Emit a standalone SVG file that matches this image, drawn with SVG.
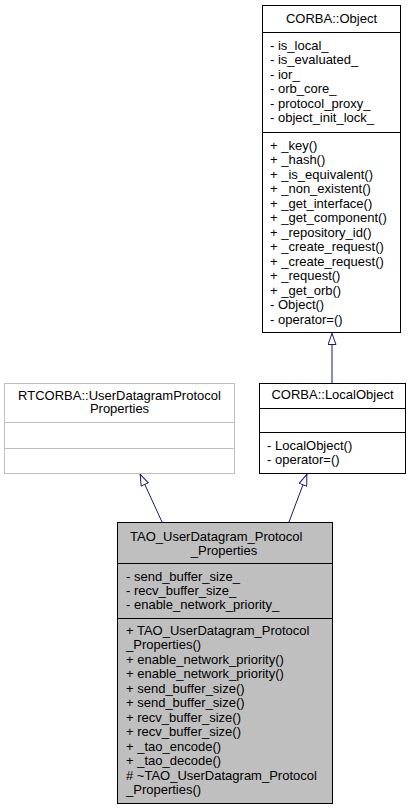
<svg xmlns="http://www.w3.org/2000/svg" width="411" height="811" viewBox="0 0 411 811">
<style>
text{font-family:"Liberation Sans",Arial,sans-serif;font-size:13px;fill:#000}
.c{text-anchor:middle}
.box{fill:#fff;stroke:#000;stroke-width:1}
.ext{fill:#fff;stroke:#bfbfbf;stroke-width:1}
.cur{fill:#bfbfbf;stroke:#000;stroke-width:1}
.sep{stroke:#000;stroke-width:1}
.sepx{stroke:#bfbfbf;stroke-width:1}
.edge{fill:none;stroke:#191970;stroke-width:1;marker-end:url(#inh)}
</style>
<defs>
<marker id="inh" viewBox="0 0 12 9" refX="12" refY="4.5" markerWidth="12" markerHeight="9" markerUnits="userSpaceOnUse" orient="auto">
<path d="M0.5,0.5 L11.5,4.5 L0.5,8.5 z" fill="#fff" stroke="#191970" stroke-width="1"/>
</marker>
</defs>
<rect width="411" height="811" fill="#fff"/>
<g id="connectors">
<path class="edge" d="M332,383 L332,333"/>
<path class="edge" d="M162,522 L140,474"/>
<path class="edge" d="M289,522 L307,474"/>
</g>
<g id="CORBA_Object">
<rect class="box" x="262.5" y="5.5" width="138" height="327"/>
<line class="sep" x1="262.5" y1="32.5" x2="400.5" y2="32.5"/>
<line class="sep" x1="262.5" y1="132.5" x2="400.5" y2="132.5"/>
<text class="c" x="331.5" y="23">CORBA::Object</text>
<text x="270" y="49.5">- is_local_</text>
<text x="270" y="64">- is_evaluated_</text>
<text x="270" y="78.5">- ior_</text>
<text x="270" y="93">- orb_core_</text>
<text x="270" y="107.5">- protocol_proxy_</text>
<text x="270" y="122">- object_init_lock_</text>
<text x="270" y="149.5">+ _key()</text>
<text x="270" y="164">+ _hash()</text>
<text x="270" y="178.5">+ _is_equivalent()</text>
<text x="270" y="193">+ _non_existent()</text>
<text x="270" y="207.5">+ _get_interface()</text>
<text x="270" y="222">+ _get_component()</text>
<text x="270" y="236.5">+ _repository_id()</text>
<text x="270" y="251">+ _create_request()</text>
<text x="270" y="265.5">+ _create_request()</text>
<text x="270" y="280">+ _request()</text>
<text x="270" y="294.5">+ _get_orb()</text>
<text x="270" y="309">- Object()</text>
<text x="270" y="323.5">- operator=()</text>
</g>
<g id="RTCORBA_UserDatagramProtocolProperties">
<rect class="ext" x="4.5" y="383.5" width="230" height="90"/>
<line class="sepx" x1="4.5" y1="422.5" x2="234.5" y2="422.5"/>
<line class="sepx" x1="4.5" y1="448.5" x2="234.5" y2="448.5"/>
<text class="c" x="119.5" y="399.5">RTCORBA::UserDatagramProtocol</text>
<text class="c" x="119.5" y="413">Properties</text>
</g>
<g id="CORBA_LocalObject">
<rect class="box" x="259.5" y="383.5" width="146" height="90"/>
<line class="sep" x1="259.5" y1="408.5" x2="405.5" y2="408.5"/>
<line class="sep" x1="259.5" y1="432.5" x2="405.5" y2="432.5"/>
<text class="c" x="332.5" y="398.5">CORBA::LocalObject</text>
<text x="267" y="449.5">- LocalObject()</text>
<text x="267" y="463.5">- operator=()</text>
</g>
<g id="TAO_UserDatagram_Protocol_Properties">
<rect class="cur" x="117.5" y="522.5" width="215" height="281"/>
<line class="sep" x1="117.5" y1="563.5" x2="332.5" y2="563.5"/>
<line class="sep" x1="117.5" y1="618.5" x2="332.5" y2="618.5"/>
<text x="130" y="540.5">TAO_UserDatagram_Protocol</text>
<text class="c" x="224" y="554.5">_Properties</text>
<text x="126" y="581">- send_buffer_size_</text>
<text x="126" y="595">- recv_buffer_size_</text>
<text x="126" y="609">- enable_network_priority_</text>
<text x="126" y="634.5">+ TAO_UserDatagram_Protocol</text>
<text x="126" y="649">_Properties()</text>
<text x="126" y="663.5">+ enable_network_priority()</text>
<text x="126" y="678">+ enable_network_priority()</text>
<text x="126" y="692.5">+ send_buffer_size()</text>
<text x="126" y="707">+ send_buffer_size()</text>
<text x="126" y="721.5">+ recv_buffer_size()</text>
<text x="126" y="736">+ recv_buffer_size()</text>
<text x="126" y="750.5">+ _tao_encode()</text>
<text x="126" y="765">+ _tao_decode()</text>
<text x="126" y="779.5"># ~TAO_UserDatagram_Protocol</text>
<text x="126" y="794">_Properties()</text>
</g>
</svg>
